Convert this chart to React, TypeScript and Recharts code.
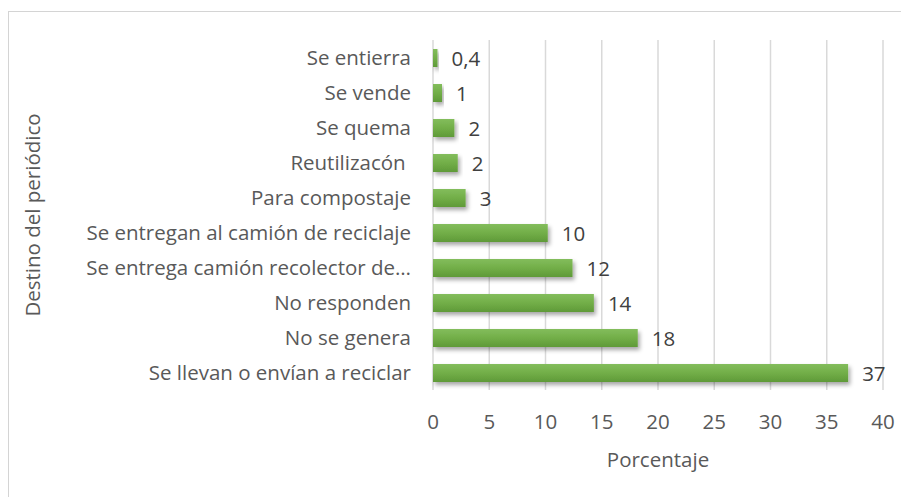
import React from "react";
import { BarChart, Bar, XAxis, YAxis, CartesianGrid, LabelList } from "recharts";

const categories = [
  "Se entierra",
  "Se vende",
  "Se quema",
  "Reutilizacón\u00A0",
  "Para compostaje",
  "Se entregan al camión de reciclaje",
  "Se entrega camión recolector de…",
  "No responden",
  "No se genera",
  "Se llevan o envían a reciclar",
];
const values = [0.4, 0.8, 1.9, 2.2, 2.9, 10.2, 12.4, 14.3, 18.2, 36.9];
const xTicks = [0, 5, 10, 15, 20, 25, 30, 35, 40];
const xTitle = "Porcentaje";
const yTitle = "Destino del periódico";

const data = categories.map((c, i) => ({ name: c, value: values[i] }));

const FONT = "'Open Sans', sans-serif";
const FS = 20.5;
const AXIS_COLOR = "#595959";

const fmt = (v: any) => {
  const n = Number(v);
  if (n < 0.5) return String(n).replace(".", ",");
  return String(Math.round(n));
};

const XTick = (props: any) => {
  const { x, y, payload } = props;
  return (
    <text x={x} y={y} dy={39} textAnchor="middle" fill={AXIS_COLOR} fontSize={FS} fontFamily={FONT}>
      {payload.value}
    </text>
  );
};

const YTick = (props: any) => {
  const { x, y, payload } = props;
  return (
    <text x={x} y={y} dy={7.5} textAnchor="end" fill={AXIS_COLOR} fontSize={FS} fontFamily={FONT} style={{ whiteSpace: "pre" }}>
      {payload.value}
    </text>
  );
};

const XTitle = (props: any) => {
  const vb = props.viewBox || {};
  return (
    <text x={vb.x + vb.width / 2} y={vb.y + 77} textAnchor="middle" fill={AXIS_COLOR} fontSize={FS} fontFamily={FONT}>
      {xTitle}
    </text>
  );
};

const YTitle = (props: any) => {
  const vb = props.viewBox || {};
  const cx = 32;
  const cy = vb.y + vb.height / 2;
  return (
    <text
      x={cx}
      y={cy}
      transform={`rotate(-90, ${cx}, ${cy})`}
      textAnchor="middle"
      fill={AXIS_COLOR}
      fontSize={FS}
      fontFamily={FONT}
    >
      {yTitle}
    </text>
  );
};

const ValueLabel = (props: any) => {
  const { x, y, width, height, value } = props;
  return (
    <text x={Number(x) + Number(width) + 14} y={Number(y) + Number(height) / 2} dy={7.5} fill="#404040" fontSize={FS} fontFamily={FONT}>
      {fmt(value)}
    </text>
  );
};

export default function App() {
  return (
    <div style={{ position: "relative", width: 901, height: 489, overflow: "hidden", background: "#fff" }}>
      <div
        style={{
          position: "absolute",
          left: 0,
          top: 3,
          width: 1200,
          height: 1200,
          border: "1px solid #d4d4d4",
          boxSizing: "border-box",
        }}
      />
      <BarChart
        width={901}
        height={489}
        data={data}
        layout="vertical"
        margin={{ top: 32, right: 26, bottom: 7, left: 0 }}
        barCategoryGap={0}
        style={{ position: "absolute", left: 0, top: 0 }}
      >
        <defs>
          <linearGradient id="barGrad" x1="0" y1="0" x2="0" y2="1">
            <stop offset="0%" stopColor="#83bd5c" />
            <stop offset="50%" stopColor="#72ae48" />
            <stop offset="100%" stopColor="#5f9a38" />
          </linearGradient>
          <filter id="barShadow" x="-10%" y="-30%" width="130%" height="190%">
            <feDropShadow dx="2" dy="3" stdDeviation="2" floodColor="#000" floodOpacity="0.35" />
          </filter>
        </defs>
        <CartesianGrid horizontal={false} stroke="#d9d9d9" strokeWidth={1.5} />
        <XAxis
          type="number"
          domain={[0, 40]}
          ticks={xTicks}
          axisLine={false}
          tickLine={false}
          tickSize={0}
          tickMargin={0}
          height={100}
          tick={<XTick />}
          label={<XTitle />}
        />
        <YAxis
          type="category"
          dataKey="name"
          width={425}
          axisLine={false}
          tickLine={false}
          tickSize={0}
          tickMargin={22}
          interval={0}
          tick={<YTick />}
          label={<YTitle />}
        />
        <Bar dataKey="value" fill="url(#barGrad)" barSize={18} filter="url(#barShadow)" isAnimationActive={false}>
          <LabelList dataKey="value" content={<ValueLabel />} />
        </Bar>
      </BarChart>
    </div>
  );
}
